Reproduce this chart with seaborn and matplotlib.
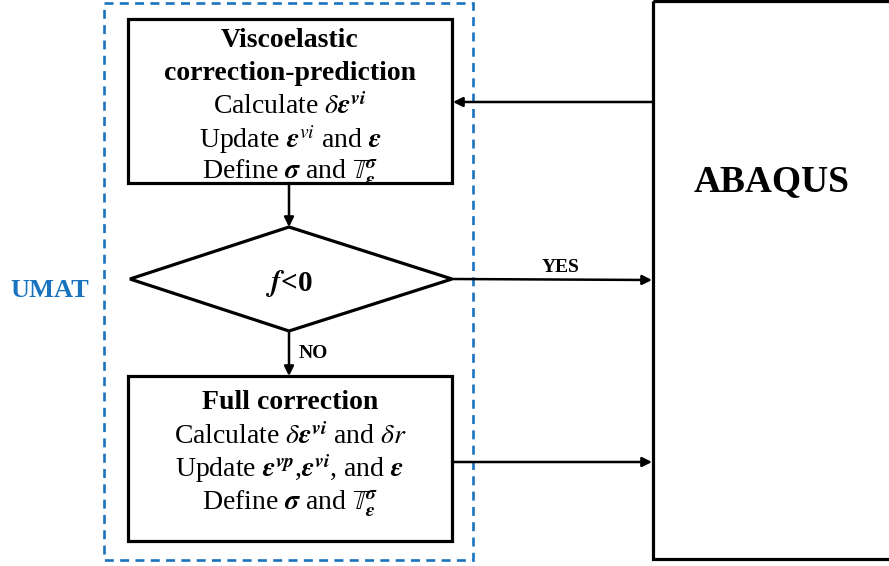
import matplotlib
matplotlib.use("Agg")
import matplotlib.pyplot as plt
import seaborn as sns
from matplotlib.patches import Rectangle, Polygon

sns.set_theme(style="white")
plt.rcParams['font.family'] = ['Liberation Serif', 'DejaVu Serif']
plt.rcParams['mathtext.fontset'] = 'stix'
plt.rcParams['text.color'] = 'black'

# text content
top_title = ["Viscoelastic", "correction-prediction"]
top_lines = [r"Calculate $\delta\mathbfit{\epsilon}^{\mathbfit{vi}}$",
             r"Update $\mathbfit{\epsilon}^{vi}$ and $\mathbfit{\epsilon}$",
             r"Define $\mathbfit{\sigma}$ and $\mathbb{T}_{\mathbfit{\epsilon}}^{\mathbfit{\sigma}}$"]
bottom_title = ["Full correction"]
bottom_lines = [r"Calculate $\delta\mathbfit{\epsilon}^{\mathbfit{vi}}$ and $\delta r$",
                r"Update $\mathbfit{\epsilon}^{\mathbfit{vp}}$,$\mathbfit{\epsilon}^{\mathbfit{vi}}$, and $\mathbfit{\epsilon}$",
                r"Define $\mathbfit{\sigma}$ and $\mathbb{T}_{\mathbfit{\epsilon}}^{\mathbfit{\sigma}}$"]
decision_label = r"$\mathbfit{f}$<0"
yes_label = "YES"
no_label = "NO"
outer_label = "UMAT"
solver_label = "ABAQUS"

blue = "#1a73be"

fig = plt.figure(figsize=(8.89, 5.66), dpi=100)
ax = fig.add_axes([0, 0, 1, 1])
ax.set_xlim(0, 889)
ax.set_ylim(566, 0)
ax.axis("off")

# UMAT dashed frame
ax.add_patch(Rectangle((104, 3), 369, 557, fill=False, ec=blue, lw=1.9,
                       ls=(0, (3.4, 2.4))))
ax.text(50, 297, outer_label, color=blue, fontsize=19, fontweight="bold",
        ha="center", va="baseline")

# ABAQUS box
ax.add_patch(Rectangle((653, 1), 300, 558, fill=False, ec="black", lw=2.3, clip_on=False))
ax.text(772, 191, solver_label, fontsize=27, fontweight="bold", ha="center", va="baseline")

# process boxes
ax.add_patch(Rectangle((128, 19), 324, 164, fill=False, ec="black", lw=2.3))
ax.add_patch(Rectangle((128, 376), 324, 165, fill=False, ec="black", lw=2.3))

for y, s in zip([47, 80], top_title):
    ax.text(290, y, s, fontsize=20, fontweight="bold", ha="center", va="baseline")
for y, s in zip([114, 148, 179], top_lines):
    ax.text(290, y, s, fontsize=20, ha="center", va="baseline")

ax.text(290, 409, bottom_title[0], fontsize=20, fontweight="bold", ha="center", va="baseline")
for y, s in zip([444, 477, 510], bottom_lines):
    ax.text(290, y, s, fontsize=20, ha="center", va="baseline")

# decision diamond
ax.add_patch(Polygon([(130, 279), (289, 227), (452, 279), (289, 331)], closed=True,
                     fill=False, ec="black", lw=2.3))
ax.text(289, 291, decision_label, fontsize=21, fontweight="bold", ha="center", va="baseline")

arrow = dict(arrowstyle="-|>", color="black", lw=1.8, mutation_scale=14, shrinkA=0, shrinkB=0)
ax.annotate("", xy=(453, 102), xytext=(653, 102), arrowprops=arrow)
ax.annotate("", xy=(289, 227), xytext=(289, 183), arrowprops=arrow)
ax.annotate("", xy=(652, 280), xytext=(452, 279), arrowprops=arrow)
ax.annotate("", xy=(289, 376), xytext=(289, 331), arrowprops=arrow)
ax.annotate("", xy=(652, 462), xytext=(452, 462), arrowprops=arrow)

ax.text(561, 272, yes_label, fontsize=14, fontweight="bold", ha="center", va="baseline")
ax.text(313, 358, no_label, fontsize=14, fontweight="bold", ha="center", va="baseline")

fig.savefig("out.png", dpi=100)
